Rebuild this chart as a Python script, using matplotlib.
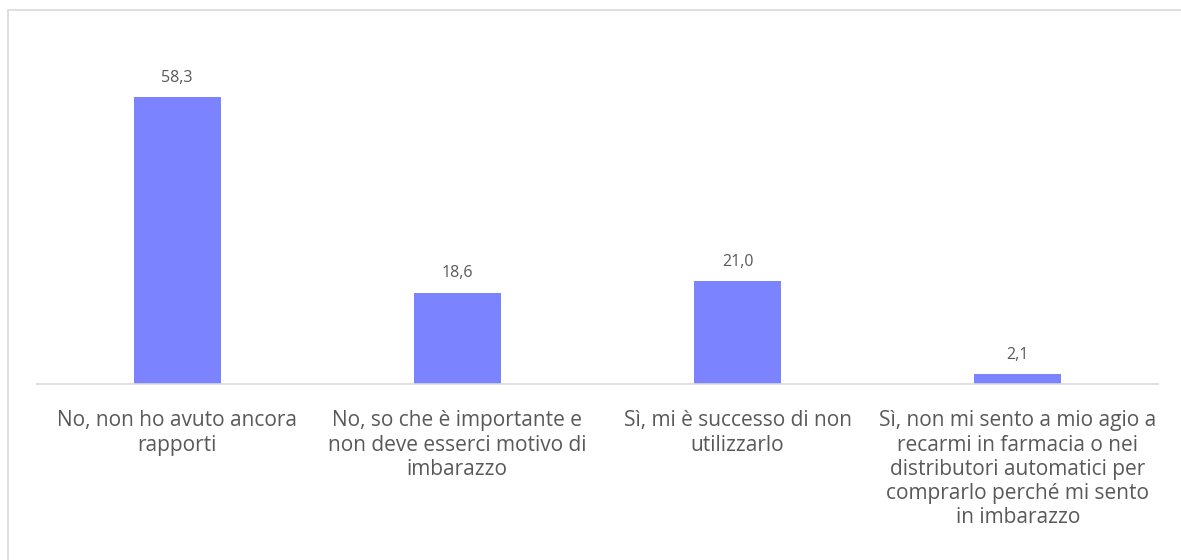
import matplotlib.pyplot as plt
from matplotlib.patches import Rectangle

# risposte e percentuali
categorie = [
    'No, non ho avuto ancora\nrapporti',
    'No, so che è importante e\nnon deve esserci motivo di\nimbarazzo',
    'Sì, mi è successo di non\nutilizzarlo',
    'Sì, non mi sento a mio agio a\nrecarmi in farmacia o nei\ndistributori automatici per\ncomprarlo perché mi sento\nin imbarazzo',
]
valori = [58.3, 18.6, 21.0, 2.1]
etichette = ['58,3', '18,6', '21,0', '2,1']

plt.rcParams['font.family'] = ['Open Sans', 'DejaVu Sans']
testo = '#595959'

fig = plt.figure(figsize=(11.81, 5.6), dpi=100)
W, H = 1181, 560
ax = fig.add_axes([37 / W, (H - 384) / H, (1158 - 37) / W, (384 - 30) / H])

x = range(len(categorie))
ax.bar(x, valori, width=0.31, color='#7B83FF', zorder=2)
for xi, v, lab in zip(x, valori, etichette):
    ax.annotate(lab, (xi, v), xytext=(0, 8), textcoords='offset points',
                ha='center', va='bottom', fontsize=11.5, color=testo)

ax.set_xlim(-0.5, len(categorie) - 0.5)
ax.set_ylim(0, 72)
ax.set_xticks(list(x))
ax.set_xticklabels(categorie, fontsize=15, color=testo, linespacing=1.2, va='top')
ax.tick_params(axis='x', length=0, pad=19)
ax.set_yticks([])
for s in ['top', 'right', 'left']:
    ax.spines[s].set_visible(False)
ax.spines['bottom'].set_color('#D9D9D9')
ax.spines['bottom'].set_linewidth(1.2)

# cornice del grafico
fig.patches.append(Rectangle((8 / W, -0.1), 1.2, (H - 10) / H + 0.1,
                             transform=fig.transFigure, fill=False,
                             edgecolor='#D9D9D9', linewidth=1.2))

fig.savefig('out.png', dpi=100)
